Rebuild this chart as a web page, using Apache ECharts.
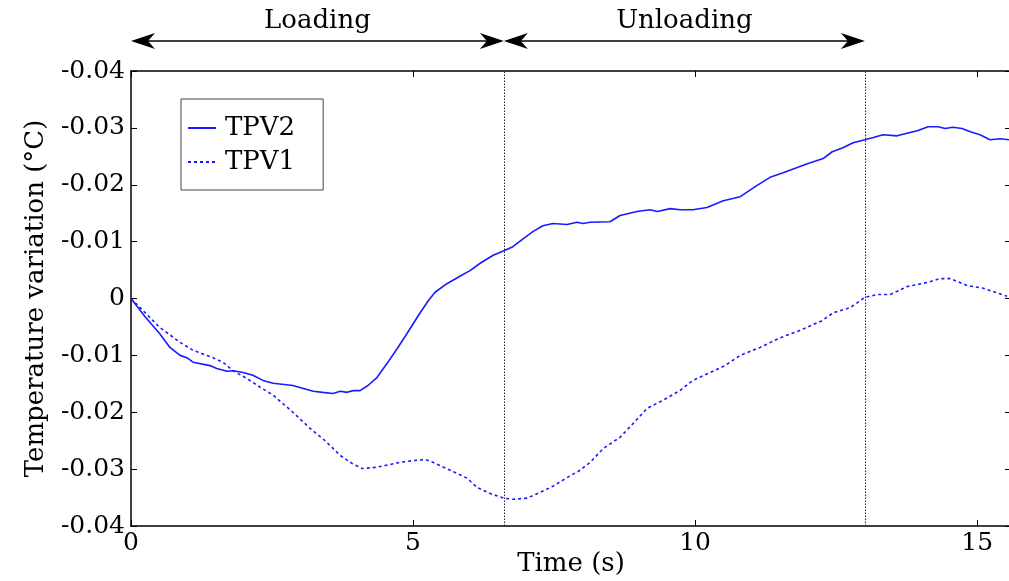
<!DOCTYPE html>
<html><head><meta charset="utf-8">
<script src="https://cdn.jsdelivr.net/npm/echarts@6/dist/echarts.min.js"></script>
<style>html,body{margin:0;padding:0;background:#fff}#c{width:1009px;height:581px}</style>
</head><body><div id="c"></div>
<script>
const FONT = '"DejaVu Serif", "Liberation Serif", serif';
const FS = 25;
const xTicks = [0, 5, 10, 15];
const yTickLabels = ['-0.04','-0.03','-0.02','-0.01','0','-0.01','-0.02','-0.03','-0.04'];
const phaseNames = ['Loading', 'Unloading'];
const phaseBounds = [0, 6.61, 13.01];
const seriesNames = ['TPV2', 'TPV1'];
const tpv2 = [
[0,0],[0.25,-0.0032],[0.51,-0.0062],[0.69,-0.0086],[0.87,-0.0100],[0.99,-0.0104],[1.10,-0.0112],
[1.40,-0.0118],[1.52,-0.0123],[1.70,-0.0128],[1.81,-0.0127],[1.99,-0.0130],[2.16,-0.0135],
[2.34,-0.0144],[2.52,-0.0149],[2.87,-0.0153],[3.23,-0.0163],[3.40,-0.0165],[3.58,-0.0167],
[3.71,-0.0163],[3.83,-0.0165],[3.94,-0.0162],[4.06,-0.0162],[4.20,-0.0153],[4.36,-0.0139],
[4.54,-0.0114],[4.72,-0.0088],[4.89,-0.0062],[5.12,-0.0026],[5.27,-0.0004],[5.39,0.0011],
[5.60,0.0026],[5.83,0.0039],[6.01,0.0049],[6.19,0.0062],[6.42,0.0076],[6.61,0.0084],
[6.77,0.0091],[6.95,0.0105],[7.13,0.0118],[7.30,0.0128],[7.48,0.0132],[7.73,0.0130],
[7.91,0.0134],[8.01,0.0132],[8.14,0.0134],[8.49,0.0135],[8.67,0.0146],[8.97,0.0153],
[9.20,0.0156],[9.33,0.0153],[9.56,0.0158],[9.73,0.0156],[9.96,0.0156],[10.21,0.0160],
[10.50,0.0172],[10.80,0.0179],[11.10,0.0199],[11.33,0.0213],[11.56,0.0221],[11.99,0.0237],
[12.27,0.0246],[12.43,0.0258],[12.62,0.0265],[12.80,0.0274],[13.01,0.0279],[13.16,0.0283],
[13.33,0.0288],[13.58,0.0286],[13.81,0.0292],[13.94,0.0295],[14.13,0.0302],[14.31,0.0302],
[14.43,0.0299],[14.57,0.0301],[14.73,0.0299],[14.88,0.0293],[15.05,0.0288],[15.23,0.0279],
[15.41,0.0281],[15.57,0.0279]
];
const tpv1 = [
[0,0],[0.16,-0.0016],[0.51,-0.0051],[0.87,-0.0077],[1.10,-0.0091],[1.45,-0.0104],[1.63,-0.0112],
[1.81,-0.0127],[2.06,-0.0141],[2.29,-0.0156],[2.52,-0.0170],[2.87,-0.0200],[3.17,-0.0228],
[3.44,-0.0250],[3.71,-0.0276],[3.92,-0.0290],[4.10,-0.0299],[4.33,-0.0297],[4.59,-0.0292],
[4.77,-0.0288],[5.00,-0.0285],[5.21,-0.0283],[5.35,-0.0288],[5.66,-0.0302],[5.96,-0.0316],
[6.13,-0.0332],[6.37,-0.0343],[6.60,-0.0351],[6.77,-0.0353],[7.02,-0.0351],[7.25,-0.0341],
[7.48,-0.0330],[7.73,-0.0315],[7.96,-0.0302],[8.14,-0.0288],[8.37,-0.0264],[8.67,-0.0244],
[8.90,-0.0220],[9.15,-0.0193],[9.43,-0.0179],[9.73,-0.0162],[9.96,-0.0144],[10.27,-0.0130],
[10.53,-0.0118],[10.80,-0.0100],[11.15,-0.0086],[11.51,-0.0069],[11.86,-0.0056],[12.25,-0.0039],
[12.45,-0.0025],[12.75,-0.0016],[13.01,0.0002],[13.23,0.0007],[13.46,0.0007],[13.76,0.0021],
[14.11,0.0028],[14.34,0.0035],[14.52,0.0035],[14.82,0.0023],[15.11,0.0018],[15.53,0.0004]
];

const chart = echarts.init(document.getElementById('c'), null, {renderer: 'canvas'});
const BLUE = '#1a1aff';
const axisLine = {show: true, onZero: false, lineStyle: {color: '#000', width: 1.5}};
const tick = {inside: true, length: 6, lineStyle: {color: '#000', width: 1}};
const yLabelFmt = v => { const i = Math.round((v + 0.04) / 0.01); return yTickLabels[i] !== undefined ? yTickLabels[i] : ''; };
const xLabelFmt = v => xTicks.indexOf(Math.round(v * 100) / 100) >= 0 ? String(v) : '';
chart.setOption({
  animation: false,
  backgroundColor: '#fff',
  grid: {left: 131, top: 71, width: 880, height: 455, show: false, containLabel: false, outerBoundsMode: 'none'},
  xAxis: [
    {type: 'value', min: 0, max: 15.6, interval: 5, position: 'bottom',
     name: 'Time (s)', nameLocation: 'middle', nameGap: 25, nameMoveOverlap: false,
     nameTextStyle: {fontFamily: FONT, fontSize: 26, color: '#000', verticalAlign: 'top'},
     axisLine: axisLine, axisTick: tick,
     axisLabel: {fontFamily: FONT, fontSize: FS, color: '#000', margin: 5, formatter: xLabelFmt, showMaxLabel: false},
     splitLine: {show: false}},
    {type: 'value', min: 0, max: 15.6, interval: 5, position: 'top',
     axisLine: axisLine, axisTick: tick,
     axisLabel: {show: false}, splitLine: {show: false}}
  ],
  yAxis: [
    {type: 'value', min: -0.04, max: 0.04, interval: 0.01, position: 'left',
     name: 'Temperature variation (°C)', nameLocation: 'middle', nameGap: 82, nameRotate: 90, nameMoveOverlap: false,
     nameTextStyle: {fontFamily: FONT, fontSize: 26, color: '#000'},
     axisLine: axisLine, axisTick: tick,
     axisLabel: {fontFamily: FONT, fontSize: FS, color: '#000', margin: 6, formatter: yLabelFmt},
     splitLine: {show: false}},
    {type: 'value', min: -0.04, max: 0.04, interval: 0.01, position: 'right',
     axisLine: axisLine, axisTick: tick,
     axisLabel: {show: false}, splitLine: {show: false}}
  ],
  legend: {
    left: 181, top: 99, orient: 'vertical', itemWidth: 28, itemHeight: 14, itemGap: 8,
    padding: [16, 28, 15, 6], borderColor: '#444', borderWidth: 1, backgroundColor: '#fff',
    itemStyle: {opacity: 0},
    textStyle: {fontFamily: FONT, fontSize: 26, color: '#000', padding: [0, 0, 0, 4]},
    data: seriesNames
  },
  series: [
    {name: seriesNames[0], type: 'line', data: tpv2, symbol: 'none', smooth: false,
     lineStyle: {color: BLUE, width: 1.6, type: 'solid'}, itemStyle: {color: BLUE},
     markLine: {silent: true, symbol: 'none', label: {show: false},
       lineStyle: {color: '#222', width: 1, type: [1.5, 1.5]},
       data: [{xAxis: phaseBounds[1]}, {xAxis: phaseBounds[2]}]}},
    {name: seriesNames[1], type: 'line', data: tpv1, symbol: 'none', smooth: false,
     lineStyle: {color: BLUE, width: 1.6, type: [3, 3]}, itemStyle: {color: BLUE}}
  ]
});

function head(tx, ty, dir) {
  const L = 24, H = 8, N = 17;
  return [[tx, ty], [tx - dir * L, ty - H], [tx - dir * N, ty], [tx - dir * L, ty + H]];
}
const els = [];
const ay = 41;
for (let i = 0; i < phaseNames.length; i++) {
  const x0 = chart.convertToPixel({xAxisIndex: 0}, phaseBounds[i]);
  const x1 = chart.convertToPixel({xAxisIndex: 0}, phaseBounds[i + 1]);
  els.push({type: 'line', shape: {x1: x0 + 10, y1: ay, x2: x1 - 10, y2: ay}, style: {stroke: '#000', lineWidth: 1.6}});
  els.push({type: 'polygon', shape: {points: head(x0, ay, -1)}, style: {fill: '#000'}});
  els.push({type: 'polygon', shape: {points: head(x1, ay, 1)}, style: {fill: '#000'}});
  els.push({type: 'text', x: (x0 + x1) / 2, y: 21, style: {text: phaseNames[i], fontFamily: FONT, fontSize: 26, fill: '#000', align: 'center', verticalAlign: 'middle'}});
}
chart.setOption({graphic: els});
</script>
</body></html>
